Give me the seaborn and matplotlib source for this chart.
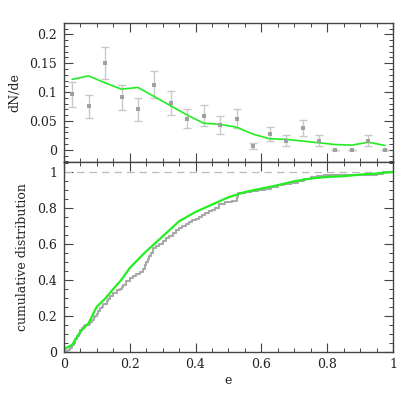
import numpy as np
import pandas as pd
import seaborn as sns
import matplotlib.pyplot as plt
from matplotlib.ticker import MultipleLocator

# binned eccentricity distribution (bin centres)
e_bins = [0.025, 0.075, 0.125, 0.175, 0.225, 0.275, 0.325, 0.375, 0.425, 0.475,
          0.525, 0.575, 0.625, 0.675, 0.725, 0.775, 0.825, 0.875, 0.925, 0.975]
dnde_obs = [0.096, 0.075, 0.150, 0.091, 0.070, 0.113, 0.081, 0.054, 0.059, 0.043,
            0.054, 0.006, 0.027, 0.016, 0.037, 0.016, 0.0, 0.0, 0.016, 0.0]
dnde_err = [0.022, 0.020, 0.028, 0.022, 0.020, 0.024, 0.021, 0.017, 0.018, 0.015,
            0.017, 0.005, 0.012, 0.010, 0.014, 0.010, 0.0, 0.0, 0.009, 0.0]
dnde_model = [0.122, 0.128, 0.116, 0.105, 0.108, 0.092, 0.076, 0.060, 0.046, 0.044,
              0.039, 0.027, 0.019, 0.018, 0.015, 0.012, 0.009, 0.008, 0.013, 0.0075]

# cumulative distributions
e_obs_cdf = [0.0, 0.012, 0.02, 0.025, 0.03, 0.035, 0.04, 0.045, 0.05, 0.055,
             0.06, 0.065, 0.075, 0.08, 0.085, 0.09, 0.095, 0.10, 0.105, 0.11,
             0.115, 0.12, 0.13, 0.135, 0.14, 0.15, 0.16, 0.17, 0.175, 0.18,
             0.19, 0.20, 0.21, 0.22, 0.23, 0.24, 0.245, 0.25, 0.255, 0.26,
             0.265, 0.27, 0.28, 0.29, 0.30, 0.31, 0.32, 0.33, 0.34, 0.35,
             0.36, 0.37, 0.38, 0.39, 0.40, 0.41, 0.42, 0.43, 0.44, 0.45,
             0.46, 0.47, 0.49, 0.51, 0.525, 0.53, 0.55, 0.57, 0.59, 0.61,
             0.63, 0.65, 0.67, 0.69, 0.71, 0.73, 0.75, 0.77, 0.79, 0.92,
             0.95, 0.97, 1.0]
cdf_obs = [0.005, 0.01, 0.02, 0.035, 0.05, 0.07, 0.085, 0.10, 0.12, 0.13,
           0.14, 0.15, 0.155, 0.165, 0.175, 0.19, 0.20, 0.21, 0.225, 0.24,
           0.25, 0.265, 0.28, 0.295, 0.31, 0.325, 0.34, 0.35, 0.36, 0.37,
           0.39, 0.41, 0.42, 0.43, 0.445, 0.46, 0.48, 0.50, 0.515, 0.53,
           0.55, 0.575, 0.59, 0.60, 0.615, 0.63, 0.645, 0.66, 0.675, 0.69,
           0.70, 0.71, 0.72, 0.73, 0.74, 0.75, 0.76, 0.77, 0.78, 0.79,
           0.80, 0.82, 0.83, 0.84, 0.86, 0.88, 0.89, 0.895, 0.90, 0.905,
           0.915, 0.925, 0.93, 0.94, 0.95, 0.96, 0.97, 0.975, 0.98, 0.985,
           0.99, 1.0, 1.0]
e_model_cdf = [0.0, 0.025, 0.05, 0.075, 0.1, 0.125, 0.15, 0.175, 0.2, 0.25, 0.3, 0.35,
               0.4, 0.45, 0.5, 0.55, 0.6, 0.65, 0.7, 0.75, 0.8, 0.85, 0.9, 0.95, 1.0]
cdf_model = [0.013, 0.037, 0.11, 0.158, 0.25, 0.294, 0.348, 0.40, 0.465, 0.558, 0.641,
             0.725, 0.777, 0.818, 0.859, 0.888, 0.907, 0.926, 0.948, 0.963, 0.972,
             0.976, 0.985, 0.991, 1.0]

sns.set_style("ticks")
plt.rcParams['font.family'] = ['DejaVu Serif']
plt.rcParams['font.size'] = 9

gray = "#a8a8a8"
green = "#22ee22"
axcol = "#444444"

fig = plt.figure(figsize=(4.15, 4.15), dpi=100)
ax1 = fig.add_axes([0.154, 0.610, 0.793, 0.335])
ax2 = fig.add_axes([0.154, 0.153, 0.793, 0.457])

df_bins = pd.DataFrame({"e": e_bins, "obs": dnde_obs, "err": dnde_err, "model": dnde_model})
ax1.errorbar(df_bins["e"], df_bins["obs"], yerr=df_bins["err"], fmt="none",
             ecolor="#c8c8c8", elinewidth=1, capsize=3, capthick=1)
sns.scatterplot(data=df_bins, x="e", y="obs", ax=ax1, marker="s", s=10,
                color="#a0a0a0", linewidth=0, zorder=3)
sns.lineplot(data=df_bins, x="e", y="model", ax=ax1, color=green, lw=1.2)

df_obs = pd.DataFrame({"e": e_obs_cdf, "cdf": cdf_obs})
df_mod = pd.DataFrame({"e": e_model_cdf, "cdf": cdf_model})
ax2.axhline(1.0, color="#bbbbbb", lw=0.9, ls=(0, (6, 4)))
sns.lineplot(data=df_obs, x="e", y="cdf", ax=ax2, color=gray, lw=1.5, drawstyle="steps-post")
sns.lineplot(data=df_mod, x="e", y="cdf", ax=ax2, color=green, lw=1.6)

ax1.set_xlim(0, 1)
ax1.set_ylim(-0.021, 0.22)
ax2.set_xlim(0, 1)
ax2.set_ylim(0, 1.056)

ax1.xaxis.set_major_locator(MultipleLocator(0.2))
ax1.xaxis.set_minor_locator(MultipleLocator(0.05))
ax1.yaxis.set_major_locator(MultipleLocator(0.05))
ax1.yaxis.set_minor_locator(MultipleLocator(0.01))
ax2.xaxis.set_major_locator(MultipleLocator(0.2))
ax2.xaxis.set_minor_locator(MultipleLocator(0.05))
ax2.yaxis.set_major_locator(MultipleLocator(0.2))
ax2.yaxis.set_minor_locator(MultipleLocator(0.05))

ax1.set_yticks([0, 0.05, 0.1, 0.15, 0.2])
ax1.set_yticklabels(["0", "0.05", "0.1", "0.15", "0.2"])
ax2.set_yticks([0, 0.2, 0.4, 0.6, 0.8, 1.0])
ax2.set_yticklabels(["0", "0.2", "0.4", "0.6", "0.8", "1"])
ax2.set_xticks([0, 0.2, 0.4, 0.6, 0.8, 1.0])
ax2.set_xticklabels(["0", "0.2", "0.4", "0.6", "0.8", "1"])
ax1.set_xticklabels([])

for ax in (ax1, ax2):
    for sp in ax.spines.values():
        sp.set_visible(True)
        sp.set_color(axcol)
        sp.set_linewidth(1.0)
    ax.tick_params(which="major", direction="in", length=6.5, width=0.8, color=axcol,
                   top=True, right=True, labelcolor="#222222", labelsize=9, pad=5)
    ax.tick_params(which="minor", direction="in", length=3, width=0.7, color=axcol,
                   top=True, right=True)

ax1.set_xlabel("")
ax1.set_ylabel("dN/de", fontsize=9, color="#222222", labelpad=6)
ax2.set_xlabel("e", fontsize=9, color="#222222", labelpad=2)
ax2.set_ylabel("cumulative distribution", fontsize=9, color="#222222", labelpad=6)

fig.savefig("out.png", dpi=100)
